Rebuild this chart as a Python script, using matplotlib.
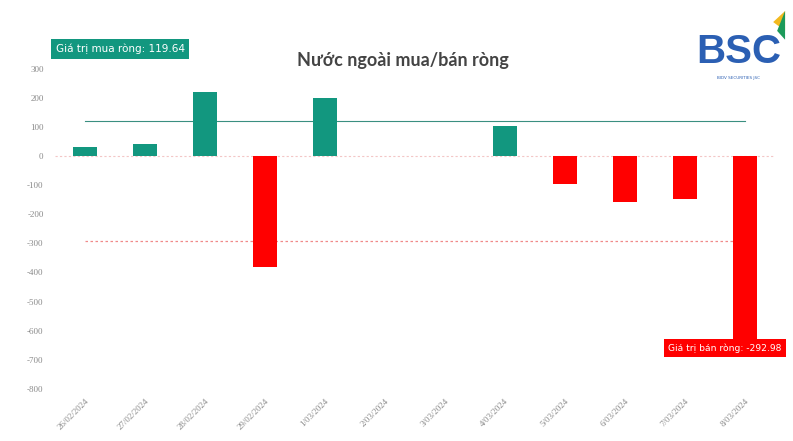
import matplotlib
matplotlib.use("Agg")
import matplotlib.pyplot as plt
import numpy as np

dates = ["26/02/2024", "27/02/2024", "28/02/2024", "29/02/2024", "1/03/2024",
         "2/03/2024", "3/03/2024", "4/03/2024", "5/03/2024", "6/03/2024",
         "7/03/2024", "8/03/2024"]
net_values = [31, 42, 221, -381, 200, 0, 0, 104, -95, -156, -146, -687]
avg_buy = 119.64
avg_sell = -292.98
yticks = [300, 200, 100, 0, -100, -200, -300, -400, -500, -600, -700, -800]

teal = "#12977f"
red = "#ff0000"

fig = plt.figure(figsize=(7.93, 4.41), dpi=100)
ax = fig.add_axes([0.069, 0.1186, 0.908, 0.7249])

x = np.arange(len(dates))
colors = [teal if v >= 0 else red for v in net_values]
vals = [v if v != 0 else np.nan for v in net_values]
ax.bar(x, vals, width=0.4, color=colors, zorder=3)

ax.plot([x[0], x[-1]], [avg_buy, avg_buy], color="#3a8f80", lw=0.8, zorder=2)
ax.plot([x[0], x[-1]], [avg_sell, avg_sell], color="#f08a8a", lw=0.9,
        ls=(0, (2, 2)), zorder=2)
ax.axhline(0, color="#f3c6c6", lw=0.8, ls=(0, (2, 2)), zorder=1)

ax.set_xlim(-0.5, len(dates) - 0.5)
ax.set_ylim(-800, 300)
ax.set_yticks(yticks)
ax.set_yticklabels([str(t) for t in yticks], fontsize=6.5, color="#8a8a8a",
                   family="Liberation Serif")
ax.set_xticks(x)
ax.set_xticklabels(dates, rotation=45, ha="right", rotation_mode="anchor",
                   fontsize=6.5, color="#8a8a8a", family="Liberation Serif")
ax.tick_params(axis="both", length=0, pad=8)
ax.tick_params(axis="x", pad=6)
for s in ax.spines.values():
    s.set_visible(False)

fig.text(0.508, 0.862, "Nước ngoài mua/bán ròng", ha="center", va="center",
         fontsize=13, fontweight="bold", color="#444444", family="Lato")

fig.text(0.07, 0.889, "Giá trị mua ròng: 119.64", ha="left", va="center",
         fontsize=7.5, color="white",
         bbox=dict(boxstyle="square,pad=0.45", fc=teal, ec="none"))
fig.text(0.843, 0.211, "Giá trị bán ròng: -292.98", ha="left", va="center",
         fontsize=6.6, color="white", zorder=10,
         bbox=dict(boxstyle="square,pad=0.5", fc=red, ec="none"))

# logo
fig.text(0.931, 0.883, "BSC", ha="center", va="center", fontsize=29,
         fontweight="bold", color="#2b5fb3", family="Liberation Sans")
fig.text(0.931, 0.822, "BIDV SECURITIES JSC", ha="center", va="center",
         fontsize=3, color="#2b5fb3")
fig.patches.append(matplotlib.patches.Polygon(
    [[0.975, 0.95], [0.99, 0.975], [0.99, 0.93]], closed=True,
    transform=fig.transFigure, fc="#f2b91e", ec="none"))
fig.patches.append(matplotlib.patches.Polygon(
    [[0.99, 0.975], [0.99, 0.91], [0.98, 0.93]], closed=True,
    transform=fig.transFigure, fc="#1c9a5a", ec="none"))

fig.savefig("out.png", dpi=100)
